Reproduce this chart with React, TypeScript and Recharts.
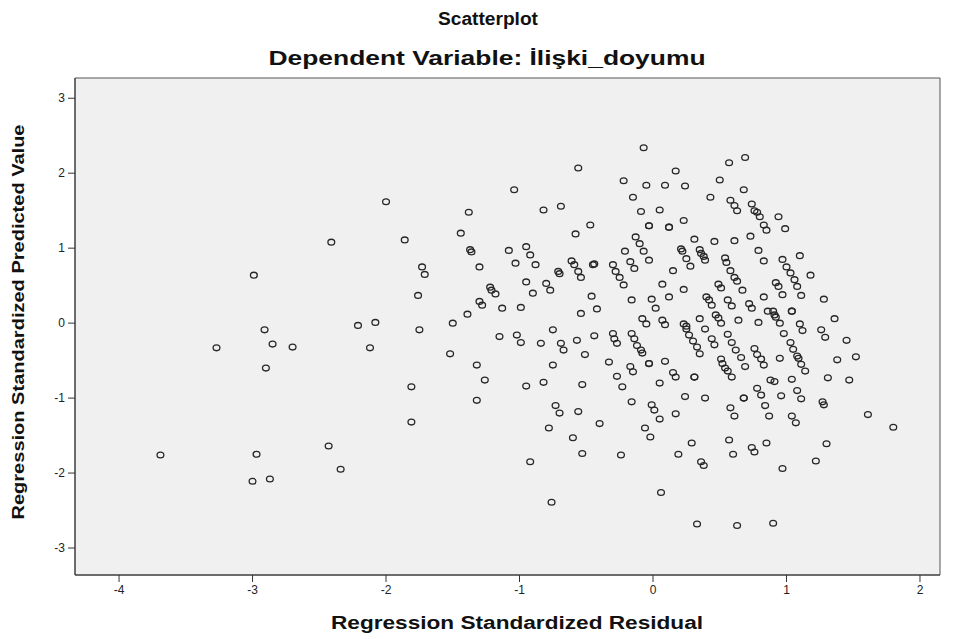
import {
  ScatterChart,
  Scatter,
  XAxis,
  YAxis,
  CartesianGrid,
  ReferenceArea,
} from "recharts";

const xTicks = [-4, -3, -2, -1, 0, 1, 2];
const yTicks = [-3, -2, -1, 0, 1, 2, 3];

// Regression standardized residual (x) and predicted value (y)
const residual = [
  -3.69, -3.27, -2.99, -2.91, -2.85, -2.9, -2.7, -2.97, -3.0, -2.87,
  -2.41, -2.43, -2.34, -2.21, -2.08, -2.12, -2.0, -1.86, -1.73, -1.71,
  -1.76, -1.75, -1.81, -1.81, -1.52, -1.5, -1.44, -1.38, -1.39, -1.32,
  -1.32, -1.37, -1.36, -1.3, -1.26, -1.22, -1.21, -1.18, -1.3, -1.28,
  -1.13, -1.15, -1.04, -1.08, -0.95, -0.92, -1.03, -0.88, -0.95, -0.9,
  -0.99, -1.02, -0.99, -0.84, -0.95, -0.82, -0.92, -0.82, -0.69, -0.56,
  -0.47, -0.58, -0.8, -0.77, -0.61, -0.59, -0.56, -0.54, -0.71, -0.7,
  -0.45, -0.46, -0.42, -0.54, -0.75, -0.69, -0.67, -0.57, -0.44, -0.51,
  -0.75, -0.53, -0.73, -0.7, -0.56, -0.78, -0.6, -0.53, -0.76, -0.4,
  -0.07, 0.57, 0.69, 0.17, -0.22, -0.05, 0.09, 0.24, 0.5, 0.68,
  -0.15, 0.43, 0.58, 0.61, 0.63, 0.74, 0.76, 0.78, 0.8, -0.09,
  0.05, -0.03, -0.03, 0.12, 0.12, 0.23, 0.83, 0.85, -0.13, -0.1,
  -0.07, -0.03, -0.21, -0.3, -0.28, -0.25, -0.22, -0.44, -0.17, -0.14,
  0.31, 0.46, 0.61, 0.73, 0.79, 0.83, 0.21, 0.22, 0.25, 0.28,
  0.35, 0.36, 0.38, 0.39, 0.15, 0.54, 0.55, 0.58, 0.61, 0.63,
  0.07, 0.23, 0.49, 0.51, 0.67, -0.16, -0.01, 0.02, 0.12, 0.4,
  0.42, 0.44, 0.56, 0.59, 0.72, 0.74, 0.83, -0.08, -0.05, 0.07,
  0.09, 0.23, 0.25, 0.35, 0.47, 0.49, 0.51, 0.64, 0.79, 0.86,
  -0.3, -0.29, -0.27, -0.16, -0.14, -0.12, -0.09, -0.08, 0.25, 0.27,
  0.3, 0.33, 0.35, 0.39, 0.44, 0.46, 0.56, 0.59, 0.62, 0.66,
  0.69, 0.51, 0.52, 0.54, 0.56, 0.59, 0.76, 0.78, 0.81, 0.83,
  -0.33, -0.27, -0.23, -0.16, -0.17, -0.15, -0.03, -0.03, 0.09, 0.15,
  0.17, 0.05, 0.31, 0.31, 0.24, 0.39, -0.01, 0.01, 0.05, 0.17,
  -0.06, -0.02, 0.29, 0.19, -0.24, 0.36, 0.38, 0.57, 0.6, 0.58,
  0.61, 0.68, 0.68, 0.74, 0.76, 0.78, 0.81, 0.84, 0.87, 0.85,
  0.88, 0.06, 0.33, 0.63, 0.9, 0.94, 0.99, 0.97, 1.0, 1.03,
  1.06, 1.08, 1.1, 1.18, 0.92, 0.94, 0.97, 1.11, 1.28, 0.9,
  0.91, 0.92, 1.04, 1.04, 1.36, 0.95, 1.1, 1.26, 1.12, 0.98,
  1.29, 1.45, 1.03, 1.05, 1.08, 1.09, 1.11, 1.14, 0.95, 1.38,
  1.52, 0.91, 1.04, 1.31, 1.47, 0.96, 1.08, 1.11, 1.27, 1.28,
  1.04, 1.07, 1.61, 1.8, 1.3, 1.22, 0.97,
];

const predicted = [
  -1.76, -0.33, 0.64, -0.09, -0.28, -0.6, -0.32, -1.75, -2.11, -2.08,
  1.08, -1.64, -1.95, -0.03, 0.01, -0.33, 1.62, 1.11, 0.75, 0.65,
  0.37, -0.09, -0.85, -1.32, -0.41, 0.0, 1.2, 1.48, 0.12, -0.56,
  -1.03, 0.98, 0.95, 0.75, -0.76, 0.48, 0.44, 0.39, 0.29, 0.24,
  0.2, -0.18, 1.78, 0.97, 1.02, 0.91, 0.8, 0.78, 0.55, 0.4,
  0.21, -0.16, -0.26, -0.27, -0.84, -0.79, -1.85, 1.51, 1.56, 2.07,
  1.31, 1.19, 0.53, 0.44, 0.83, 0.78, 0.69, 0.61, 0.69, 0.66,
  0.78, 0.36, 0.19, 0.13, -0.09, -0.27, -0.36, -0.23, -0.17, -0.42,
  -0.56, -0.82, -1.1, -1.2, -1.18, -1.4, -1.53, -1.74, -2.39, -1.34,
  2.34, 2.14, 2.21, 2.03, 1.9, 1.84, 1.84, 1.83, 1.91, 1.78,
  1.68, 1.68, 1.64, 1.57, 1.5, 1.59, 1.5, 1.48, 1.42, 1.49,
  1.51, 1.3, 1.3, 1.28, 1.28, 1.37, 1.31, 1.24, 1.15, 1.06,
  0.96, 0.84, 0.96, 0.78, 0.69, 0.61, 0.51, 0.79, 0.82, 0.73,
  1.12, 1.09, 1.1, 1.16, 0.97, 0.83, 0.99, 0.96, 0.86, 0.76,
  0.98, 0.93, 0.89, 0.84, 0.7, 0.87, 0.81, 0.7, 0.61, 0.56,
  0.52, 0.45, 0.52, 0.47, 0.44, 0.31, 0.32, 0.2, 0.35, 0.35,
  0.31, 0.24, 0.31, 0.23, 0.26, 0.2, 0.35, 0.06, -0.01, 0.04,
  -0.02, -0.01, -0.04, 0.06, 0.11, 0.07, 0.0, 0.04, 0.01, 0.16,
  -0.14, -0.21, -0.27, -0.14, -0.21, -0.3, -0.36, -0.4, -0.08, -0.16,
  -0.24, -0.32, -0.41, -0.08, -0.21, -0.29, -0.15, -0.26, -0.36, -0.46,
  -0.58, -0.48, -0.54, -0.6, -0.64, -0.72, -0.34, -0.42, -0.48, -0.56,
  -0.52, -0.71, -0.85, -1.05, -0.58, -0.65, -0.54, -0.54, -0.51, -0.66,
  -0.72, -0.8, -0.72, -0.72, -0.98, -1.0, -1.09, -1.16, -1.28, -1.21,
  -1.4, -1.52, -1.6, -1.75, -1.76, -1.85, -1.9, -1.56, -1.75, -1.13,
  -1.24, -1.0, -1.0, -1.66, -1.72, -0.87, -0.96, -1.1, -1.24, -1.6,
  -0.76, -2.26, -2.68, -2.7, -2.67, 1.42, 1.26, 0.85, 0.75, 0.67,
  0.58, 0.49, 0.9, 0.64, 0.54, 0.49, 0.38, 0.37, 0.32, 0.16,
  0.11, 0.08, 0.16, 0.16, 0.06, 0.0, -0.01, -0.09, -0.1, -0.14,
  -0.19, -0.23, -0.26, -0.35, -0.44, -0.47, -0.55, -0.64, -0.47, -0.49,
  -0.45, -0.78, -0.75, -0.73, -0.76, -0.97, -0.9, -1.01, -1.05, -1.09,
  -1.24, -1.33, -1.22, -1.39, -1.61, -1.84, -1.94,
];

const points = residual
  .slice(0, Math.min(residual.length, predicted.length))
  .map((x, i) => ({ x, y: predicted[i] }));

const X_DOMAIN: [number, number] = [-4.33, 2.15];
const Y_DOMAIN: [number, number] = [-3.36, 3.27];

const SANS = "'Liberation Sans', Arial, sans-serif";

// open ring marker, slightly wider than tall like the original
function Ring(props: any) {
  const { cx, cy } = props;
  if (cx == null || cy == null) return null;
  return (
    <ellipse
      cx={cx}
      cy={cy}
      rx={3.4}
      ry={2.9}
      fill="none"
      stroke="#262626"
      strokeWidth={1.3}
    />
  );
}

export default function App() {
  return (
    <div
      style={{
        position: "absolute",
        left: 0,
        top: 0,
        width: 955,
        height: 639,
        background: "#fff",
      }}
    >
      <ScatterChart
        width={955}
        height={639}
        margin={{ top: 78, right: 15, bottom: 34, left: 15 }}
      >
        <CartesianGrid horizontal={false} vertical={false} fill="#f0f0f0" />
        <ReferenceArea
          x1={X_DOMAIN[0]}
          x2={X_DOMAIN[1]}
          y1={Y_DOMAIN[0]}
          y2={Y_DOMAIN[1]}
          fill="none"
          fillOpacity={0}
          stroke="#555"
          strokeWidth={1}
        />
        <XAxis
          type="number"
          dataKey="x"
          domain={X_DOMAIN}
          ticks={xTicks}
          allowDataOverflow
          height={30}
          tickSize={7}
          tickMargin={3}
          stroke="#333"
          tick={{ fontSize: 12, fill: "#222", fontFamily: SANS }}
        />
        <YAxis
          type="number"
          dataKey="y"
          domain={Y_DOMAIN}
          ticks={yTicks}
          allowDataOverflow
          width={60}
          tickSize={7}
          tickMargin={3}
          stroke="#333"
          tick={{ fontSize: 12, fill: "#222", fontFamily: SANS }}
        />
        <Scatter data={points} shape={Ring} isAnimationActive={false} />
      </ScatterChart>

      <svg
        width={955}
        height={639}
        style={{ position: "absolute", left: 0, top: 0, pointerEvents: "none" }}
        fontFamily={SANS}
        fontWeight="bold"
        fill="#111"
      >
        <text x={488} y={25} fontSize={18} textAnchor="middle" textLength={100} lengthAdjust="spacingAndGlyphs">
          Scatterplot
        </text>
        <text x={487} y={65} fontSize={20} textAnchor="middle" textLength={437} lengthAdjust="spacingAndGlyphs">
          Dependent Variable: İlişki_doyumu
        </text>
        <text x={517} y={629} fontSize={18} textAnchor="middle" textLength={372} lengthAdjust="spacingAndGlyphs">
          Regression Standardized Residual
        </text>
        <text
          x={0}
          y={0}
          fontSize={16}
          textAnchor="middle"
          textLength={395}
          lengthAdjust="spacingAndGlyphs"
          transform="translate(24 322) rotate(-90)"
        >
          Regression Standardized Predicted Value
        </text>
      </svg>
    </div>
  );
}
